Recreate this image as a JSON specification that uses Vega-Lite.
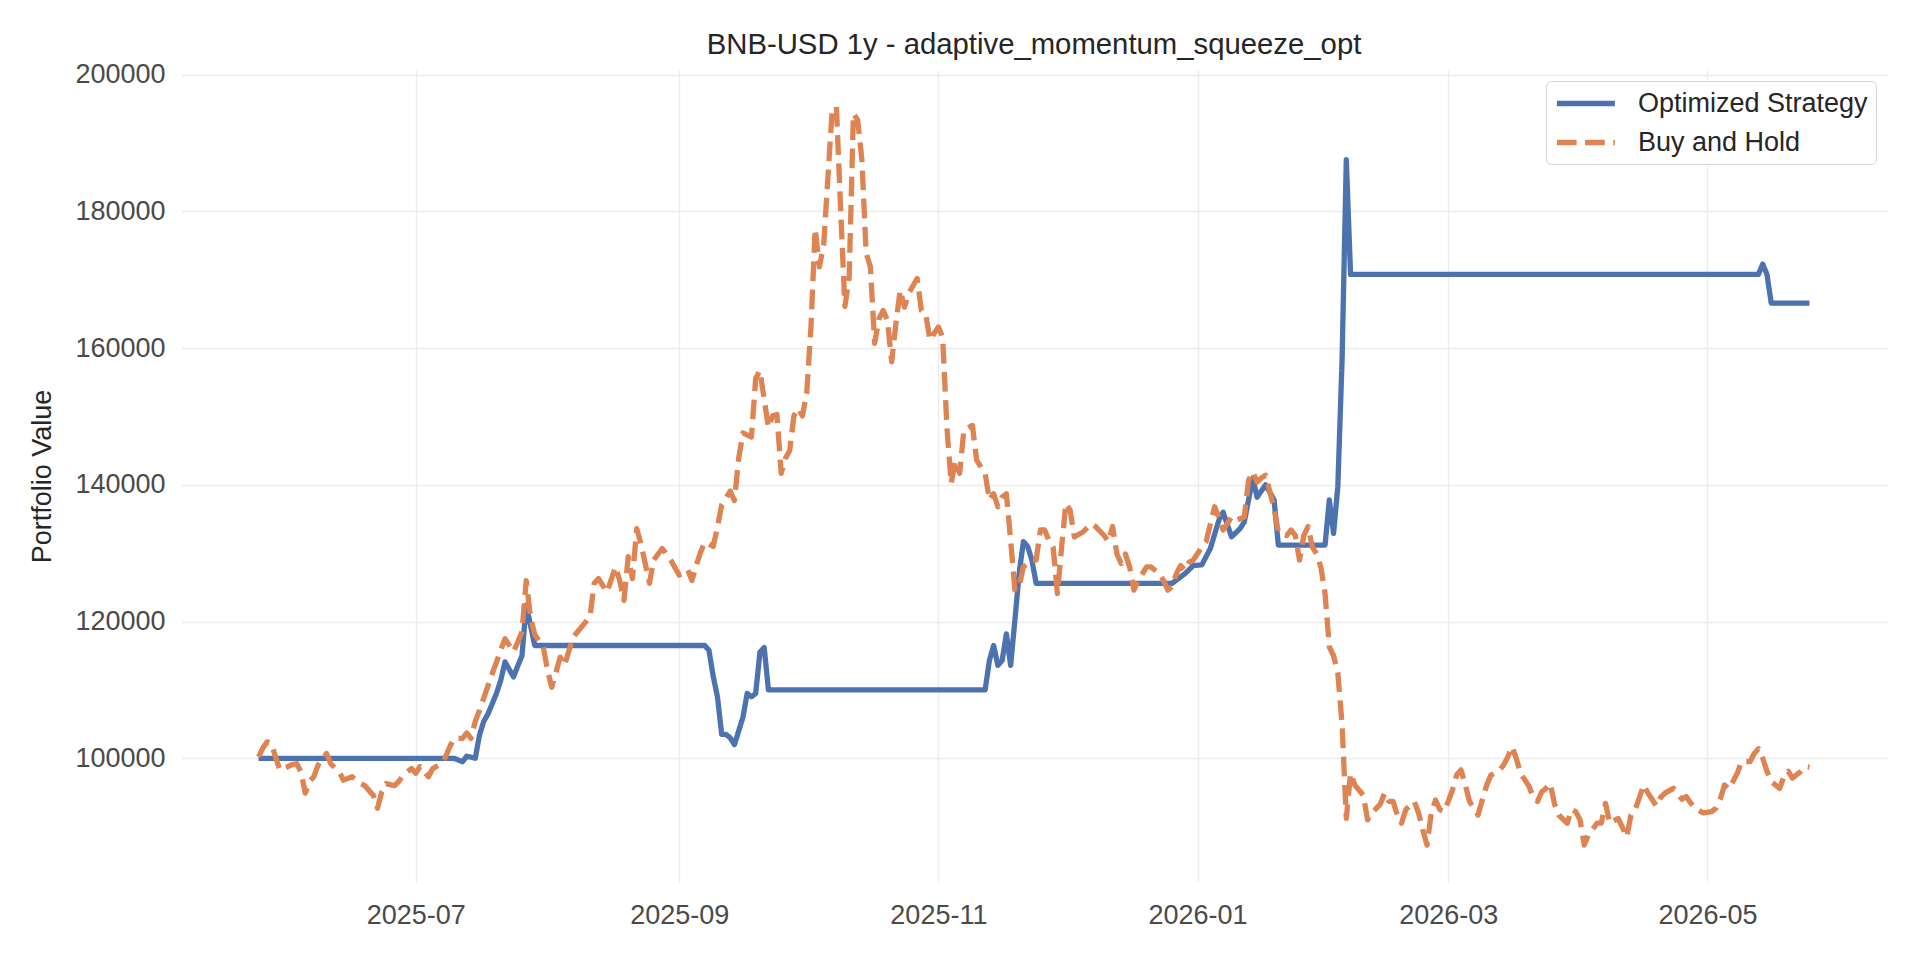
{
  "$schema": "https://vega.github.io/schema/vega-lite/v6.json",
  "width": 1706,
  "height": 812,
  "autosize": {"type": "none"},
  "padding": {"left": 181, "top": 70, "right": 33, "bottom": 78},
  "background": "white",
  "title": {
    "text": "BNB-USD 1y - adaptive_momentum_squeeze_opt",
    "anchor": "middle",
    "frame": "group",
    "font": "Liberation Sans",
    "fontSize": 29.3,
    "fontWeight": "normal",
    "color": "#262626",
    "offset": 0
  },
  "config": {
    "view": {"stroke": null},
    "font": "Liberation Sans",
    "axis": {
      "domain": false,
      "ticks": false,
      "gridColor": "#ececec",
      "gridWidth": 1.3,
      "labelFont": "Liberation Sans",
      "labelFontSize": 27,
      "labelColor": "#4a4a4a",
      "titleFont": "Liberation Sans",
      "titleFontSize": 27,
      "titleFontWeight": "normal",
      "titleColor": "#262626"
    },
    "legend": {
      "labelFont": "Liberation Sans",
      "labelFontSize": 27,
      "labelColor": "#262626",
      "labelLimit": 500
    }
  },
  "data": {
    "values": [
      {"date": "2025-05-25", "series": "Optimized Strategy", "value": 100000},
      {"date": "2025-07-10", "series": "Optimized Strategy", "value": 100000},
      {"date": "2025-07-12", "series": "Optimized Strategy", "value": 99500},
      {"date": "2025-07-13", "series": "Optimized Strategy", "value": 100300},
      {"date": "2025-07-15", "series": "Optimized Strategy", "value": 100000},
      {"date": "2025-07-16", "series": "Optimized Strategy", "value": 103400},
      {"date": "2025-07-17", "series": "Optimized Strategy", "value": 105400},
      {"date": "2025-07-18", "series": "Optimized Strategy", "value": 106500},
      {"date": "2025-07-19", "series": "Optimized Strategy", "value": 108000},
      {"date": "2025-07-20", "series": "Optimized Strategy", "value": 109500},
      {"date": "2025-07-21", "series": "Optimized Strategy", "value": 111400},
      {"date": "2025-07-22", "series": "Optimized Strategy", "value": 114100},
      {"date": "2025-07-23", "series": "Optimized Strategy", "value": 113000},
      {"date": "2025-07-24", "series": "Optimized Strategy", "value": 111900},
      {"date": "2025-07-25", "series": "Optimized Strategy", "value": 113500},
      {"date": "2025-07-26", "series": "Optimized Strategy", "value": 115000},
      {"date": "2025-07-27", "series": "Optimized Strategy", "value": 122400},
      {"date": "2025-07-28", "series": "Optimized Strategy", "value": 119500},
      {"date": "2025-07-29", "series": "Optimized Strategy", "value": 116500},
      {"date": "2025-09-07", "series": "Optimized Strategy", "value": 116500},
      {"date": "2025-09-08", "series": "Optimized Strategy", "value": 115800},
      {"date": "2025-09-09", "series": "Optimized Strategy", "value": 112000},
      {"date": "2025-09-10", "series": "Optimized Strategy", "value": 109000},
      {"date": "2025-09-11", "series": "Optimized Strategy", "value": 103500},
      {"date": "2025-09-12", "series": "Optimized Strategy", "value": 103500},
      {"date": "2025-09-13", "series": "Optimized Strategy", "value": 103000},
      {"date": "2025-09-14", "series": "Optimized Strategy", "value": 102000},
      {"date": "2025-09-16", "series": "Optimized Strategy", "value": 106000},
      {"date": "2025-09-17", "series": "Optimized Strategy", "value": 109500},
      {"date": "2025-09-18", "series": "Optimized Strategy", "value": 109000},
      {"date": "2025-09-19", "series": "Optimized Strategy", "value": 109500},
      {"date": "2025-09-20", "series": "Optimized Strategy", "value": 115500},
      {"date": "2025-09-21", "series": "Optimized Strategy", "value": 116200},
      {"date": "2025-09-22", "series": "Optimized Strategy", "value": 110000},
      {"date": "2025-11-12", "series": "Optimized Strategy", "value": 110000},
      {"date": "2025-11-13", "series": "Optimized Strategy", "value": 114300},
      {"date": "2025-11-14", "series": "Optimized Strategy", "value": 116500},
      {"date": "2025-11-15", "series": "Optimized Strategy", "value": 113600},
      {"date": "2025-11-16", "series": "Optimized Strategy", "value": 114300},
      {"date": "2025-11-17", "series": "Optimized Strategy", "value": 118200},
      {"date": "2025-11-18", "series": "Optimized Strategy", "value": 113600},
      {"date": "2025-11-19", "series": "Optimized Strategy", "value": 120200},
      {"date": "2025-11-20", "series": "Optimized Strategy", "value": 127000},
      {"date": "2025-11-21", "series": "Optimized Strategy", "value": 131700},
      {"date": "2025-11-22", "series": "Optimized Strategy", "value": 131000},
      {"date": "2025-11-23", "series": "Optimized Strategy", "value": 129000},
      {"date": "2025-11-24", "series": "Optimized Strategy", "value": 125600},
      {"date": "2025-12-26", "series": "Optimized Strategy", "value": 125600},
      {"date": "2025-12-29", "series": "Optimized Strategy", "value": 127000},
      {"date": "2025-12-31", "series": "Optimized Strategy", "value": 128200},
      {"date": "2026-01-02", "series": "Optimized Strategy", "value": 128300},
      {"date": "2026-01-04", "series": "Optimized Strategy", "value": 130700},
      {"date": "2026-01-06", "series": "Optimized Strategy", "value": 134800},
      {"date": "2026-01-07", "series": "Optimized Strategy", "value": 136000},
      {"date": "2026-01-09", "series": "Optimized Strategy", "value": 132400},
      {"date": "2026-01-11", "series": "Optimized Strategy", "value": 133600},
      {"date": "2026-01-12", "series": "Optimized Strategy", "value": 134600},
      {"date": "2026-01-14", "series": "Optimized Strategy", "value": 141000},
      {"date": "2026-01-15", "series": "Optimized Strategy", "value": 138200},
      {"date": "2026-01-17", "series": "Optimized Strategy", "value": 140000},
      {"date": "2026-01-19", "series": "Optimized Strategy", "value": 137800},
      {"date": "2026-01-20", "series": "Optimized Strategy", "value": 131200},
      {"date": "2026-01-31", "series": "Optimized Strategy", "value": 131200},
      {"date": "2026-02-01", "series": "Optimized Strategy", "value": 137800},
      {"date": "2026-02-02", "series": "Optimized Strategy", "value": 132900},
      {"date": "2026-02-03", "series": "Optimized Strategy", "value": 139700},
      {"date": "2026-02-04", "series": "Optimized Strategy", "value": 158200},
      {"date": "2026-02-05", "series": "Optimized Strategy", "value": 187600},
      {"date": "2026-02-06", "series": "Optimized Strategy", "value": 170800},
      {"date": "2026-05-13", "series": "Optimized Strategy", "value": 170800},
      {"date": "2026-05-14", "series": "Optimized Strategy", "value": 172300},
      {"date": "2026-05-15", "series": "Optimized Strategy", "value": 170800},
      {"date": "2026-05-16", "series": "Optimized Strategy", "value": 166600},
      {"date": "2026-05-25", "series": "Optimized Strategy", "value": 166600},

      {"date": "2025-05-25", "series": "Buy and Hold", "value": 100200},
      {"date": "2025-05-26", "series": "Buy and Hold", "value": 101500},
      {"date": "2025-05-27", "series": "Buy and Hold", "value": 102400},
      {"date": "2025-05-28", "series": "Buy and Hold", "value": 102200},
      {"date": "2025-05-29", "series": "Buy and Hold", "value": 100200},
      {"date": "2025-05-30", "series": "Buy and Hold", "value": 98300},
      {"date": "2025-06-01", "series": "Buy and Hold", "value": 98800},
      {"date": "2025-06-02", "series": "Buy and Hold", "value": 99100},
      {"date": "2025-06-03", "series": "Buy and Hold", "value": 99200},
      {"date": "2025-06-04", "series": "Buy and Hold", "value": 98000},
      {"date": "2025-06-05", "series": "Buy and Hold", "value": 94900},
      {"date": "2025-06-06", "series": "Buy and Hold", "value": 96600},
      {"date": "2025-06-07", "series": "Buy and Hold", "value": 97300},
      {"date": "2025-06-08", "series": "Buy and Hold", "value": 99000},
      {"date": "2025-06-10", "series": "Buy and Hold", "value": 100700},
      {"date": "2025-06-11", "series": "Buy and Hold", "value": 99200},
      {"date": "2025-06-13", "series": "Buy and Hold", "value": 98000},
      {"date": "2025-06-14", "series": "Buy and Hold", "value": 96800},
      {"date": "2025-06-16", "series": "Buy and Hold", "value": 97300},
      {"date": "2025-06-18", "series": "Buy and Hold", "value": 96300},
      {"date": "2025-06-19", "series": "Buy and Hold", "value": 96000},
      {"date": "2025-06-21", "series": "Buy and Hold", "value": 94600},
      {"date": "2025-06-22", "series": "Buy and Hold", "value": 92700},
      {"date": "2025-06-23", "series": "Buy and Hold", "value": 95100},
      {"date": "2025-06-24", "series": "Buy and Hold", "value": 96300},
      {"date": "2025-06-26", "series": "Buy and Hold", "value": 96000},
      {"date": "2025-06-27", "series": "Buy and Hold", "value": 96600},
      {"date": "2025-06-28", "series": "Buy and Hold", "value": 97500},
      {"date": "2025-06-30", "series": "Buy and Hold", "value": 98500},
      {"date": "2025-07-01", "series": "Buy and Hold", "value": 97800},
      {"date": "2025-07-02", "series": "Buy and Hold", "value": 98800},
      {"date": "2025-07-04", "series": "Buy and Hold", "value": 97300},
      {"date": "2025-07-05", "series": "Buy and Hold", "value": 98500},
      {"date": "2025-07-07", "series": "Buy and Hold", "value": 99200},
      {"date": "2025-07-08", "series": "Buy and Hold", "value": 100200},
      {"date": "2025-07-09", "series": "Buy and Hold", "value": 101700},
      {"date": "2025-07-10", "series": "Buy and Hold", "value": 102900},
      {"date": "2025-07-12", "series": "Buy and Hold", "value": 102900},
      {"date": "2025-07-13", "series": "Buy and Hold", "value": 103700},
      {"date": "2025-07-14", "series": "Buy and Hold", "value": 102900},
      {"date": "2025-07-15", "series": "Buy and Hold", "value": 105400},
      {"date": "2025-07-16", "series": "Buy and Hold", "value": 107000},
      {"date": "2025-07-17", "series": "Buy and Hold", "value": 108800},
      {"date": "2025-07-19", "series": "Buy and Hold", "value": 112400},
      {"date": "2025-07-21", "series": "Buy and Hold", "value": 115800},
      {"date": "2025-07-22", "series": "Buy and Hold", "value": 117500},
      {"date": "2025-07-24", "series": "Buy and Hold", "value": 115600},
      {"date": "2025-07-25", "series": "Buy and Hold", "value": 117000},
      {"date": "2025-07-26", "series": "Buy and Hold", "value": 118500},
      {"date": "2025-07-27", "series": "Buy and Hold", "value": 126000},
      {"date": "2025-07-28", "series": "Buy and Hold", "value": 120700},
      {"date": "2025-07-29", "series": "Buy and Hold", "value": 118100},
      {"date": "2025-07-31", "series": "Buy and Hold", "value": 116300},
      {"date": "2025-08-01", "series": "Buy and Hold", "value": 112900},
      {"date": "2025-08-02", "series": "Buy and Hold", "value": 110400},
      {"date": "2025-08-04", "series": "Buy and Hold", "value": 114800},
      {"date": "2025-08-05", "series": "Buy and Hold", "value": 113600},
      {"date": "2025-08-07", "series": "Buy and Hold", "value": 117700},
      {"date": "2025-08-09", "series": "Buy and Hold", "value": 119200},
      {"date": "2025-08-11", "series": "Buy and Hold", "value": 120700},
      {"date": "2025-08-12", "series": "Buy and Hold", "value": 125600},
      {"date": "2025-08-13", "series": "Buy and Hold", "value": 126300},
      {"date": "2025-08-15", "series": "Buy and Hold", "value": 124300},
      {"date": "2025-08-17", "series": "Buy and Hold", "value": 128000},
      {"date": "2025-08-18", "series": "Buy and Hold", "value": 126000},
      {"date": "2025-08-19", "series": "Buy and Hold", "value": 123100},
      {"date": "2025-08-20", "series": "Buy and Hold", "value": 129500},
      {"date": "2025-08-21", "series": "Buy and Hold", "value": 126300},
      {"date": "2025-08-22", "series": "Buy and Hold", "value": 133600},
      {"date": "2025-08-23", "series": "Buy and Hold", "value": 131400},
      {"date": "2025-08-25", "series": "Buy and Hold", "value": 125600},
      {"date": "2025-08-26", "series": "Buy and Hold", "value": 129000},
      {"date": "2025-08-28", "series": "Buy and Hold", "value": 130700},
      {"date": "2025-08-30", "series": "Buy and Hold", "value": 129000},
      {"date": "2025-09-01", "series": "Buy and Hold", "value": 126800},
      {"date": "2025-09-03", "series": "Buy and Hold", "value": 127600},
      {"date": "2025-09-04", "series": "Buy and Hold", "value": 126000},
      {"date": "2025-09-05", "series": "Buy and Hold", "value": 128200},
      {"date": "2025-09-06", "series": "Buy and Hold", "value": 130100},
      {"date": "2025-09-07", "series": "Buy and Hold", "value": 131600},
      {"date": "2025-09-09", "series": "Buy and Hold", "value": 131000},
      {"date": "2025-09-10", "series": "Buy and Hold", "value": 133800},
      {"date": "2025-09-11", "series": "Buy and Hold", "value": 137100},
      {"date": "2025-09-13", "series": "Buy and Hold", "value": 139100},
      {"date": "2025-09-14", "series": "Buy and Hold", "value": 137700},
      {"date": "2025-09-15", "series": "Buy and Hold", "value": 143900},
      {"date": "2025-09-16", "series": "Buy and Hold", "value": 147600},
      {"date": "2025-09-18", "series": "Buy and Hold", "value": 147000},
      {"date": "2025-09-19", "series": "Buy and Hold", "value": 155600},
      {"date": "2025-09-20", "series": "Buy and Hold", "value": 156700},
      {"date": "2025-09-22", "series": "Buy and Hold", "value": 148400},
      {"date": "2025-09-23", "series": "Buy and Hold", "value": 150100},
      {"date": "2025-09-24", "series": "Buy and Hold", "value": 150300},
      {"date": "2025-09-25", "series": "Buy and Hold", "value": 141700},
      {"date": "2025-09-26", "series": "Buy and Hold", "value": 143900},
      {"date": "2025-09-27", "series": "Buy and Hold", "value": 145000},
      {"date": "2025-09-28", "series": "Buy and Hold", "value": 150100},
      {"date": "2025-09-29", "series": "Buy and Hold", "value": 151200},
      {"date": "2025-09-30", "series": "Buy and Hold", "value": 150100},
      {"date": "2025-10-01", "series": "Buy and Hold", "value": 153400},
      {"date": "2025-10-02", "series": "Buy and Hold", "value": 163000},
      {"date": "2025-10-03", "series": "Buy and Hold", "value": 177500},
      {"date": "2025-10-04", "series": "Buy and Hold", "value": 171900},
      {"date": "2025-10-05", "series": "Buy and Hold", "value": 175100},
      {"date": "2025-10-06", "series": "Buy and Hold", "value": 185000},
      {"date": "2025-10-07", "series": "Buy and Hold", "value": 194800},
      {"date": "2025-10-08", "series": "Buy and Hold", "value": 195300},
      {"date": "2025-10-09", "series": "Buy and Hold", "value": 180200},
      {"date": "2025-10-10", "series": "Buy and Hold", "value": 166100},
      {"date": "2025-10-11", "series": "Buy and Hold", "value": 170400},
      {"date": "2025-10-12", "series": "Buy and Hold", "value": 194300},
      {"date": "2025-10-13", "series": "Buy and Hold", "value": 193400},
      {"date": "2025-10-14", "series": "Buy and Hold", "value": 187500},
      {"date": "2025-10-15", "series": "Buy and Hold", "value": 173900},
      {"date": "2025-10-16", "series": "Buy and Hold", "value": 171900},
      {"date": "2025-10-17", "series": "Buy and Hold", "value": 160700},
      {"date": "2025-10-18", "series": "Buy and Hold", "value": 164300},
      {"date": "2025-10-19", "series": "Buy and Hold", "value": 165500},
      {"date": "2025-10-20", "series": "Buy and Hold", "value": 164100},
      {"date": "2025-10-21", "series": "Buy and Hold", "value": 158000},
      {"date": "2025-10-22", "series": "Buy and Hold", "value": 163600},
      {"date": "2025-10-23", "series": "Buy and Hold", "value": 168500},
      {"date": "2025-10-24", "series": "Buy and Hold", "value": 166000},
      {"date": "2025-10-25", "series": "Buy and Hold", "value": 168000},
      {"date": "2025-10-27", "series": "Buy and Hold", "value": 170200},
      {"date": "2025-10-28", "series": "Buy and Hold", "value": 165500},
      {"date": "2025-10-29", "series": "Buy and Hold", "value": 165100},
      {"date": "2025-10-30", "series": "Buy and Hold", "value": 161200},
      {"date": "2025-11-01", "series": "Buy and Hold", "value": 163100},
      {"date": "2025-11-02", "series": "Buy and Hold", "value": 161600},
      {"date": "2025-11-03", "series": "Buy and Hold", "value": 148500},
      {"date": "2025-11-04", "series": "Buy and Hold", "value": 140200},
      {"date": "2025-11-05", "series": "Buy and Hold", "value": 143600},
      {"date": "2025-11-06", "series": "Buy and Hold", "value": 141700},
      {"date": "2025-11-07", "series": "Buy and Hold", "value": 148000},
      {"date": "2025-11-09", "series": "Buy and Hold", "value": 148700},
      {"date": "2025-11-10", "series": "Buy and Hold", "value": 143600},
      {"date": "2025-11-12", "series": "Buy and Hold", "value": 141700},
      {"date": "2025-11-13", "series": "Buy and Hold", "value": 137800},
      {"date": "2025-11-14", "series": "Buy and Hold", "value": 138700},
      {"date": "2025-11-15", "series": "Buy and Hold", "value": 136800},
      {"date": "2025-11-16", "series": "Buy and Hold", "value": 138200},
      {"date": "2025-11-17", "series": "Buy and Hold", "value": 138700},
      {"date": "2025-11-18", "series": "Buy and Hold", "value": 131900},
      {"date": "2025-11-19", "series": "Buy and Hold", "value": 124600},
      {"date": "2025-11-20", "series": "Buy and Hold", "value": 125100},
      {"date": "2025-11-21", "series": "Buy and Hold", "value": 128000},
      {"date": "2025-11-23", "series": "Buy and Hold", "value": 129000},
      {"date": "2025-11-24", "series": "Buy and Hold", "value": 129000},
      {"date": "2025-11-25", "series": "Buy and Hold", "value": 133400},
      {"date": "2025-11-26", "series": "Buy and Hold", "value": 133400},
      {"date": "2025-11-27", "series": "Buy and Hold", "value": 131900},
      {"date": "2025-11-28", "series": "Buy and Hold", "value": 130900},
      {"date": "2025-11-29", "series": "Buy and Hold", "value": 124100},
      {"date": "2025-11-30", "series": "Buy and Hold", "value": 130900},
      {"date": "2025-12-01", "series": "Buy and Hold", "value": 137300},
      {"date": "2025-12-02", "series": "Buy and Hold", "value": 136300},
      {"date": "2025-12-03", "series": "Buy and Hold", "value": 132400},
      {"date": "2025-12-05", "series": "Buy and Hold", "value": 133100},
      {"date": "2025-12-07", "series": "Buy and Hold", "value": 134300},
      {"date": "2025-12-08", "series": "Buy and Hold", "value": 133900},
      {"date": "2025-12-10", "series": "Buy and Hold", "value": 132600},
      {"date": "2025-12-11", "series": "Buy and Hold", "value": 131700},
      {"date": "2025-12-12", "series": "Buy and Hold", "value": 133900},
      {"date": "2025-12-13", "series": "Buy and Hold", "value": 129900},
      {"date": "2025-12-14", "series": "Buy and Hold", "value": 128500},
      {"date": "2025-12-15", "series": "Buy and Hold", "value": 129900},
      {"date": "2025-12-16", "series": "Buy and Hold", "value": 128000},
      {"date": "2025-12-17", "series": "Buy and Hold", "value": 124600},
      {"date": "2025-12-18", "series": "Buy and Hold", "value": 126000},
      {"date": "2025-12-19", "series": "Buy and Hold", "value": 127000},
      {"date": "2025-12-20", "series": "Buy and Hold", "value": 128000},
      {"date": "2025-12-21", "series": "Buy and Hold", "value": 128000},
      {"date": "2025-12-23", "series": "Buy and Hold", "value": 127000},
      {"date": "2025-12-24", "series": "Buy and Hold", "value": 126000},
      {"date": "2025-12-25", "series": "Buy and Hold", "value": 124600},
      {"date": "2025-12-26", "series": "Buy and Hold", "value": 125100},
      {"date": "2025-12-27", "series": "Buy and Hold", "value": 127000},
      {"date": "2025-12-28", "series": "Buy and Hold", "value": 128200},
      {"date": "2025-12-29", "series": "Buy and Hold", "value": 127500},
      {"date": "2025-12-30", "series": "Buy and Hold", "value": 128700},
      {"date": "2025-12-31", "series": "Buy and Hold", "value": 129000},
      {"date": "2026-01-02", "series": "Buy and Hold", "value": 130900},
      {"date": "2026-01-03", "series": "Buy and Hold", "value": 131700},
      {"date": "2026-01-05", "series": "Buy and Hold", "value": 136800},
      {"date": "2026-01-06", "series": "Buy and Hold", "value": 135300},
      {"date": "2026-01-07", "series": "Buy and Hold", "value": 133400},
      {"date": "2026-01-09", "series": "Buy and Hold", "value": 135300},
      {"date": "2026-01-10", "series": "Buy and Hold", "value": 134800},
      {"date": "2026-01-12", "series": "Buy and Hold", "value": 135300},
      {"date": "2026-01-13", "series": "Buy and Hold", "value": 140700},
      {"date": "2026-01-14", "series": "Buy and Hold", "value": 141900},
      {"date": "2026-01-15", "series": "Buy and Hold", "value": 140400},
      {"date": "2026-01-16", "series": "Buy and Hold", "value": 141000},
      {"date": "2026-01-17", "series": "Buy and Hold", "value": 141400},
      {"date": "2026-01-18", "series": "Buy and Hold", "value": 139000},
      {"date": "2026-01-19", "series": "Buy and Hold", "value": 136600},
      {"date": "2026-01-20", "series": "Buy and Hold", "value": 133100},
      {"date": "2026-01-22", "series": "Buy and Hold", "value": 132600},
      {"date": "2026-01-23", "series": "Buy and Hold", "value": 133400},
      {"date": "2026-01-24", "series": "Buy and Hold", "value": 132600},
      {"date": "2026-01-25", "series": "Buy and Hold", "value": 129000},
      {"date": "2026-01-26", "series": "Buy and Hold", "value": 132600},
      {"date": "2026-01-27", "series": "Buy and Hold", "value": 133900},
      {"date": "2026-01-28", "series": "Buy and Hold", "value": 130900},
      {"date": "2026-01-29", "series": "Buy and Hold", "value": 129900},
      {"date": "2026-01-30", "series": "Buy and Hold", "value": 128000},
      {"date": "2026-01-31", "series": "Buy and Hold", "value": 124100},
      {"date": "2026-02-01", "series": "Buy and Hold", "value": 116300},
      {"date": "2026-02-02", "series": "Buy and Hold", "value": 115000},
      {"date": "2026-02-03", "series": "Buy and Hold", "value": 112500},
      {"date": "2026-02-04", "series": "Buy and Hold", "value": 105000},
      {"date": "2026-02-05", "series": "Buy and Hold", "value": 91200},
      {"date": "2026-02-06", "series": "Buy and Hold", "value": 97800},
      {"date": "2026-02-07", "series": "Buy and Hold", "value": 96100},
      {"date": "2026-02-09", "series": "Buy and Hold", "value": 94600},
      {"date": "2026-02-10", "series": "Buy and Hold", "value": 91000},
      {"date": "2026-02-11", "series": "Buy and Hold", "value": 92000},
      {"date": "2026-02-13", "series": "Buy and Hold", "value": 93300},
      {"date": "2026-02-14", "series": "Buy and Hold", "value": 94900},
      {"date": "2026-02-15", "series": "Buy and Hold", "value": 93700},
      {"date": "2026-02-16", "series": "Buy and Hold", "value": 93700},
      {"date": "2026-02-17", "series": "Buy and Hold", "value": 91700},
      {"date": "2026-02-18", "series": "Buy and Hold", "value": 90500},
      {"date": "2026-02-19", "series": "Buy and Hold", "value": 92500},
      {"date": "2026-02-21", "series": "Buy and Hold", "value": 93700},
      {"date": "2026-02-22", "series": "Buy and Hold", "value": 92000},
      {"date": "2026-02-23", "series": "Buy and Hold", "value": 89500},
      {"date": "2026-02-24", "series": "Buy and Hold", "value": 87300},
      {"date": "2026-02-25", "series": "Buy and Hold", "value": 92000},
      {"date": "2026-02-26", "series": "Buy and Hold", "value": 93900},
      {"date": "2026-02-27", "series": "Buy and Hold", "value": 92500},
      {"date": "2026-02-28", "series": "Buy and Hold", "value": 92200},
      {"date": "2026-03-01", "series": "Buy and Hold", "value": 93700},
      {"date": "2026-03-02", "series": "Buy and Hold", "value": 95400},
      {"date": "2026-03-03", "series": "Buy and Hold", "value": 97600},
      {"date": "2026-03-04", "series": "Buy and Hold", "value": 98300},
      {"date": "2026-03-05", "series": "Buy and Hold", "value": 96100},
      {"date": "2026-03-06", "series": "Buy and Hold", "value": 93700},
      {"date": "2026-03-08", "series": "Buy and Hold", "value": 91700},
      {"date": "2026-03-09", "series": "Buy and Hold", "value": 93900},
      {"date": "2026-03-10", "series": "Buy and Hold", "value": 96000},
      {"date": "2026-03-11", "series": "Buy and Hold", "value": 97500},
      {"date": "2026-03-13", "series": "Buy and Hold", "value": 98200},
      {"date": "2026-03-14", "series": "Buy and Hold", "value": 99000},
      {"date": "2026-03-15", "series": "Buy and Hold", "value": 100200},
      {"date": "2026-03-16", "series": "Buy and Hold", "value": 101700},
      {"date": "2026-03-17", "series": "Buy and Hold", "value": 100000},
      {"date": "2026-03-18", "series": "Buy and Hold", "value": 97800},
      {"date": "2026-03-20", "series": "Buy and Hold", "value": 95900},
      {"date": "2026-03-21", "series": "Buy and Hold", "value": 94300},
      {"date": "2026-03-22", "series": "Buy and Hold", "value": 93700},
      {"date": "2026-03-23", "series": "Buy and Hold", "value": 95100},
      {"date": "2026-03-24", "series": "Buy and Hold", "value": 95600},
      {"date": "2026-03-25", "series": "Buy and Hold", "value": 96300},
      {"date": "2026-03-26", "series": "Buy and Hold", "value": 93300},
      {"date": "2026-03-27", "series": "Buy and Hold", "value": 91700},
      {"date": "2026-03-29", "series": "Buy and Hold", "value": 90500},
      {"date": "2026-03-30", "series": "Buy and Hold", "value": 92500},
      {"date": "2026-03-31", "series": "Buy and Hold", "value": 92200},
      {"date": "2026-04-01", "series": "Buy and Hold", "value": 91000},
      {"date": "2026-04-02", "series": "Buy and Hold", "value": 87300},
      {"date": "2026-04-03", "series": "Buy and Hold", "value": 88800},
      {"date": "2026-04-05", "series": "Buy and Hold", "value": 90500},
      {"date": "2026-04-06", "series": "Buy and Hold", "value": 90500},
      {"date": "2026-04-07", "series": "Buy and Hold", "value": 93400},
      {"date": "2026-04-08", "series": "Buy and Hold", "value": 90500},
      {"date": "2026-04-10", "series": "Buy and Hold", "value": 91200},
      {"date": "2026-04-12", "series": "Buy and Hold", "value": 88500},
      {"date": "2026-04-13", "series": "Buy and Hold", "value": 91700},
      {"date": "2026-04-14", "series": "Buy and Hold", "value": 92500},
      {"date": "2026-04-15", "series": "Buy and Hold", "value": 94300},
      {"date": "2026-04-16", "series": "Buy and Hold", "value": 96100},
      {"date": "2026-04-17", "series": "Buy and Hold", "value": 94900},
      {"date": "2026-04-19", "series": "Buy and Hold", "value": 93000},
      {"date": "2026-04-20", "series": "Buy and Hold", "value": 94300},
      {"date": "2026-04-21", "series": "Buy and Hold", "value": 94900},
      {"date": "2026-04-23", "series": "Buy and Hold", "value": 95600},
      {"date": "2026-04-25", "series": "Buy and Hold", "value": 94000},
      {"date": "2026-04-26", "series": "Buy and Hold", "value": 94400},
      {"date": "2026-04-27", "series": "Buy and Hold", "value": 93500},
      {"date": "2026-04-28", "series": "Buy and Hold", "value": 92700},
      {"date": "2026-04-30", "series": "Buy and Hold", "value": 92000},
      {"date": "2026-05-02", "series": "Buy and Hold", "value": 92200},
      {"date": "2026-05-03", "series": "Buy and Hold", "value": 92700},
      {"date": "2026-05-04", "series": "Buy and Hold", "value": 94000},
      {"date": "2026-05-05", "series": "Buy and Hold", "value": 96100},
      {"date": "2026-05-06", "series": "Buy and Hold", "value": 95500},
      {"date": "2026-05-07", "series": "Buy and Hold", "value": 96600},
      {"date": "2026-05-08", "series": "Buy and Hold", "value": 97800},
      {"date": "2026-05-09", "series": "Buy and Hold", "value": 99500},
      {"date": "2026-05-11", "series": "Buy and Hold", "value": 99500},
      {"date": "2026-05-12", "series": "Buy and Hold", "value": 100700},
      {"date": "2026-05-13", "series": "Buy and Hold", "value": 101400},
      {"date": "2026-05-14", "series": "Buy and Hold", "value": 100000},
      {"date": "2026-05-15", "series": "Buy and Hold", "value": 98100},
      {"date": "2026-05-16", "series": "Buy and Hold", "value": 96600},
      {"date": "2026-05-18", "series": "Buy and Hold", "value": 95600},
      {"date": "2026-05-19", "series": "Buy and Hold", "value": 97400},
      {"date": "2026-05-20", "series": "Buy and Hold", "value": 98100},
      {"date": "2026-05-21", "series": "Buy and Hold", "value": 97100},
      {"date": "2026-05-23", "series": "Buy and Hold", "value": 98100},
      {"date": "2026-05-24", "series": "Buy and Hold", "value": 98800},
      {"date": "2026-05-25", "series": "Buy and Hold", "value": 98700}
    ]
  },
  "encoding": {
    "x": {
      "field": "date",
      "type": "temporal",
      "title": null,
      "scale": {
        "type": "utc",
        "domain": [
          {"year": 2025, "month": 5, "date": 6, "hours": 18, "utc": true},
          {"year": 2026, "month": 6, "date": 12, "hours": 6, "utc": true}
        ]
      },
      "axis": {
        "format": "%Y-%m",
        "labelPadding": 20,
        "labelFlush": false,
        "labelOverlap": false,
        "values": [
          {"year": 2025, "month": 7, "date": 1, "utc": true},
          {"year": 2025, "month": 9, "date": 1, "utc": true},
          {"year": 2025, "month": 11, "date": 1, "utc": true},
          {"year": 2026, "month": 1, "date": 1, "utc": true},
          {"year": 2026, "month": 3, "date": 1, "utc": true},
          {"year": 2026, "month": 5, "date": 1, "utc": true}
        ]
      }
    },
    "y": {
      "field": "value",
      "type": "quantitative",
      "title": "Portfolio Value",
      "scale": {"domain": [81900, 200700], "zero": false, "nice": false},
      "axis": {
        "values": [100000, 120000, 140000, 160000, 180000, 200000],
        "format": "d",
        "labelPadding": 16,
        "titlePadding": 18
      }
    },
    "color": {
      "field": "series",
      "type": "nominal",
      "title": null,
      "scale": {
        "domain": ["Optimized Strategy", "Buy and Hold"],
        "range": ["#4c72b0", "#dd8452"]
      },
      "legend": {
        "orient": "top-right",
        "offset": 11,
        "symbolType": "M-1,0H4",
        "symbolSize": 538,
        "symbolStrokeWidth": 5.3,
        "labelOffset": 55,
        "rowPadding": 11,
        "padding": 8,
        "strokeColor": "#d5d5d5",
        "fillColor": "white",
        "cornerRadius": 5
      }
    },
    "strokeDash": {
      "field": "series",
      "type": "nominal",
      "scale": {
        "domain": ["Optimized Strategy", "Buy and Hold"],
        "range": [[1, 0], [19.7, 8.5]]
      },
      "legend": null
    }
  },
  "layer": [
    {
      "transform": [{"filter": "datum.series === 'Optimized Strategy'"}],
      "mark": {"type": "line", "strokeWidth": 5.3, "strokeJoin": "round", "strokeCap": "butt"}
    },
    {
      "transform": [{"filter": "datum.series === 'Buy and Hold'"}],
      "mark": {"type": "line", "strokeWidth": 5.3, "strokeJoin": "round", "strokeCap": "butt"}
    }
  ]
}
